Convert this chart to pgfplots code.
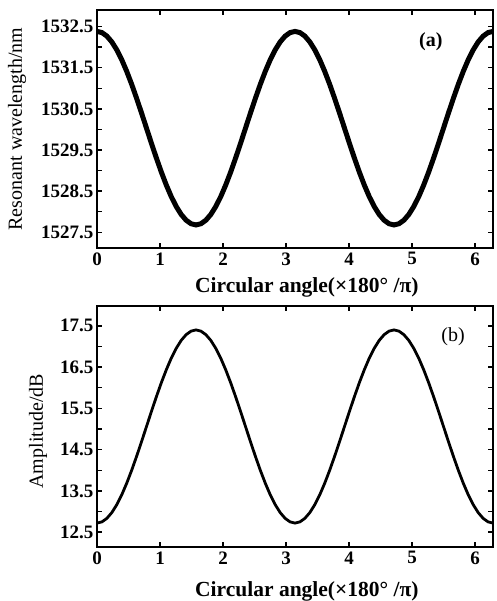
\documentclass[border=0pt]{standalone}
\usepackage{fontspec}
\setmainfont{Liberation Serif}
\usepackage{pgfplots}
\usepackage{pgfplotstable}
\pgfplotsset{compat=1.18}

% x = circular angle, wl = resonant wavelength (nm), amp = amplitude (dB)
\pgfplotstableread{
x      wl        amp
0.0000 1532.380 12.720
0.0785 1532.351 12.749
0.1571 1532.265 12.835
0.2356 1532.124 12.975
0.3142 1531.931 13.167
0.3927 1531.692 13.405
0.4712 1531.411 13.685
0.5498 1531.097 13.998
0.6283 1530.756 14.337
0.7069 1530.398 14.694
0.7854 1530.030 15.060
0.8639 1529.662 15.426
0.9425 1529.304 15.783
1.0210 1528.963 16.122
1.0996 1528.649 16.435
1.1781 1528.368 16.715
1.2566 1528.129 16.953
1.3352 1527.936 17.145
1.4137 1527.795 17.285
1.4923 1527.709 17.371
1.5708 1527.680 17.400
1.6493 1527.709 17.371
1.7279 1527.795 17.285
1.8064 1527.936 17.145
1.8850 1528.129 16.953
1.9635 1528.368 16.715
2.0420 1528.649 16.435
2.1206 1528.963 16.122
2.1991 1529.304 15.783
2.2777 1529.662 15.426
2.3562 1530.030 15.060
2.4347 1530.398 14.694
2.5133 1530.756 14.337
2.5918 1531.097 13.998
2.6704 1531.411 13.685
2.7489 1531.692 13.405
2.8274 1531.931 13.167
2.9060 1532.124 12.975
2.9845 1532.265 12.835
3.0631 1532.351 12.749
3.1416 1532.380 12.720
3.2201 1532.351 12.749
3.2987 1532.265 12.835
3.3772 1532.124 12.975
3.4558 1531.931 13.167
3.5343 1531.692 13.405
3.6128 1531.411 13.685
3.6914 1531.097 13.998
3.7699 1530.756 14.337
3.8485 1530.398 14.694
3.9270 1530.030 15.060
4.0055 1529.662 15.426
4.0841 1529.304 15.783
4.1626 1528.963 16.122
4.2412 1528.649 16.435
4.3197 1528.368 16.715
4.3982 1528.129 16.953
4.4768 1527.936 17.145
4.5553 1527.795 17.285
4.6339 1527.709 17.371
4.7124 1527.680 17.400
4.7909 1527.709 17.371
4.8695 1527.795 17.285
4.9480 1527.936 17.145
5.0265 1528.129 16.953
5.1051 1528.368 16.715
5.1836 1528.649 16.435
5.2622 1528.963 16.122
5.3407 1529.304 15.783
5.4192 1529.662 15.426
5.4978 1530.030 15.060
5.5763 1530.398 14.694
5.6549 1530.756 14.337
5.7334 1531.097 13.998
5.8119 1531.411 13.685
5.8905 1531.692 13.405
5.9690 1531.931 13.167
6.0476 1532.124 12.975
6.1261 1532.265 12.835
6.2046 1532.351 12.749
6.2832 1532.380 12.720
}\angdata

\pgfplotsset{
  panel/.style={
    scale only axis,
    width=396pt,
    anchor=north west,
    xmin=0, xmax=6.2832,
    xtick={0,1,...,6},
    /pgf/number format/assume math mode=true,
    tick label style={font=\fontsize{19}{19}\selectfont\bfseries},
    label style={font=\fontsize{20}{22}\selectfont},
    axis line style={line width=2pt},
    major tick style={line width=1.4pt, black},
    minor tick style={line width=1.4pt, black},
    major tick length=5pt,
    minor tick length=5pt,
    xticklabel style={yshift=-1pt},
    yticklabel style={/pgf/number format/.cd, fixed, fixed zerofill, precision=1, 1000 sep={}},
  },
}

\begin{document}
\begin{tikzpicture}
\useasboundingbox (0,0) rectangle (496pt,-601pt);

\begin{axis}[panel,
  at={(97pt,-10pt)}, height=238pt,
  ymin=1527.12, ymax=1532.9,
  ytick={1527.5,1528.5,...,1532.5},
  minor ytick={1528,1529,...,1532},
  xlabel={\fontsize{21.5}{22}\selectfont\bfseries Circular angle(×180°\ /π)},
  ylabel={Resonant wavelength/nm},
  xlabel style={at={(axis description cs:0.53,-0.185)}, anchor=base},
  ylabel style={at={(axis description cs:-0.202,0.5)}, anchor=center},
]
\addplot[black, line width=5pt] table[x=x, y=wl] {\angdata};
\node[font=\fontsize{20}{20}\selectfont\bfseries] at (axis description cs:0.843,0.866) {(a)};
\end{axis}

\begin{axis}[panel,
  at={(97pt,-306pt)}, height=241pt,
  ymin=12.14, ymax=17.98,
  ytick={12.5,13.5,...,17.5},
  minor ytick={13,14,...,17},
  xlabel={\fontsize{21.5}{22}\selectfont\bfseries Circular angle(×180°\ /π)},
  ylabel={Amplitude/dB},
  xlabel style={at={(axis description cs:0.53,-0.207)}, anchor=base},
  ylabel style={at={(axis description cs:-0.149,0.48)}, anchor=center},
]
\addplot[black, line width=2.8pt] table[x=x, y=amp] {\angdata};
\node[font=\fontsize{20}{20}\selectfont] at (axis description cs:0.899,0.871) {(b)};
\end{axis}
\end{tikzpicture}
\end{document}
